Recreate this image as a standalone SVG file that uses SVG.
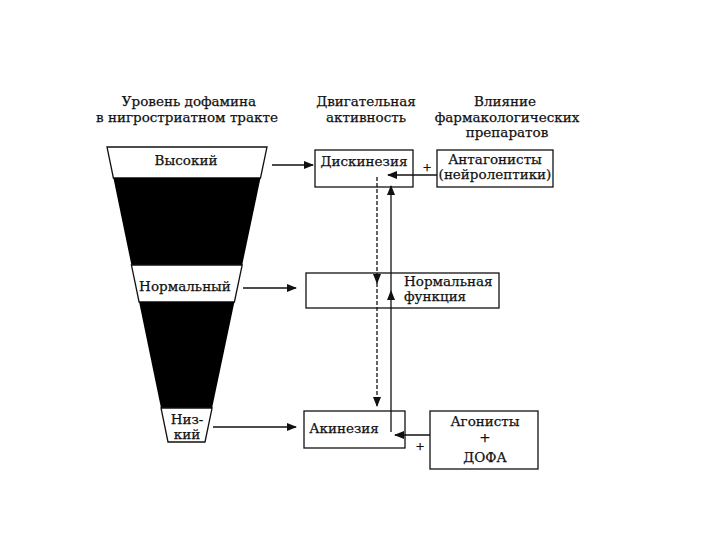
<svg xmlns="http://www.w3.org/2000/svg" width="720" height="540" viewBox="0 0 720 540">
<defs>
<style>
text{font-family:"DejaVu Serif","Liberation Serif",serif;font-size:13.5px;fill:#111;stroke:#111;stroke-width:0.25;}
.c{text-anchor:middle;}
.box{fill:#fff;stroke:#111;stroke-width:1.3;}
.ln{fill:none;stroke:#111;stroke-width:1.3;}
.dash{stroke-dasharray:4 2;}
.pl{font-size:11px;}
</style>
<marker id="ah" markerWidth="10" markerHeight="8" refX="9" refY="4" orient="auto" markerUnits="userSpaceOnUse">
<path d="M0,0 L10,4 L0,8 Z" fill="#111"/>
</marker>
</defs>
<rect width="720" height="540" fill="#fff"/>
<g id="headers">
<text class="c" x="189" y="106">Уровень дофамина</text>
<text class="c" x="187" y="122">в нигростриатном тракте</text>
<text class="c" x="366" y="106">Двигательная</text>
<text class="c" x="366" y="122">активность</text>
<text class="c" x="505" y="106">Влияние</text>
<text class="c" x="507" y="122">фармакологических</text>
<text class="c" x="507" y="137">препаратов</text>
</g>
<g id="funnel">
<polygon points="107,147 267,147 260.5,178 113.4,178" fill="#fff" stroke="#111" stroke-width="1.3"/>
<polygon points="113.4,178 260.5,178 242.2,265 131.4,265" fill="#000"/>
<polygon points="131.4,265 242.2,265 234.4,302 139.1,302" fill="#fff" stroke="#111" stroke-width="1.3"/>
<polygon points="139.1,302 234.4,302 212.1,408 161,408" fill="#000"/>
<polygon points="161,408 212.1,408 205,442 168,442" fill="#fff" stroke="#111" stroke-width="1.3"/>
<text class="c" x="186" y="165">Высокий</text>
<text class="c" x="185" y="291">Нормальный</text>
<text class="c" x="187" y="424">Низ-</text>
<text class="c" x="187" y="439">кий</text>
</g>
<g id="dyskinesia">
<rect class="box" x="315" y="150" width="98" height="37"/>
<text class="c" x="364" y="166">Дискинезия</text>
</g>
<g id="antagonists">
<rect class="box" x="437" y="150" width="116" height="37"/>
<text class="c" x="495" y="164">Антагонисты</text>
<text class="c" x="495" y="179">(нейролептики)</text>
</g>
<g id="normal">
<rect class="box" x="306" y="273" width="193" height="35"/>
<text x="404" y="286">Нормальная</text>
<text x="404" y="301">функция</text>
</g>
<g id="akinesia">
<rect class="box" x="304" y="411" width="101" height="37"/>
<text class="c" x="344" y="433">Акинезия</text>
</g>
<g id="agonists">
<rect class="box" x="430" y="411" width="108" height="58"/>
<text class="c" x="485" y="426">Агонисты</text>
<text class="c" x="485" y="442">+</text>
<text class="c" x="485" y="462">ДОФА</text>
</g>
<g id="connectors">
<line class="ln" x1="272" y1="165" x2="313" y2="165" marker-end="url(#ah)"/>
<line class="ln" x1="243" y1="288" x2="296" y2="288" marker-end="url(#ah)"/>
<line class="ln" x1="213" y1="427" x2="296" y2="427" marker-end="url(#ah)"/>
<line class="ln" x1="437" y1="175" x2="388" y2="175" marker-end="url(#ah)"/>
<text class="c pl" x="427" y="171">+</text>
<line class="ln" x1="430" y1="435" x2="395" y2="435" marker-end="url(#ah)"/>
<text class="c pl" x="420" y="450">+</text>
<line class="ln dash" x1="377" y1="177" x2="377" y2="283" marker-end="url(#ah)"/>
<line class="ln dash" x1="377" y1="283" x2="377" y2="406" marker-end="url(#ah)"/>
<line class="ln" x1="391" y1="432" x2="391" y2="291" marker-end="url(#ah)"/>
<line class="ln" x1="391" y1="291" x2="391" y2="186" marker-end="url(#ah)"/>
</g>
</svg>
